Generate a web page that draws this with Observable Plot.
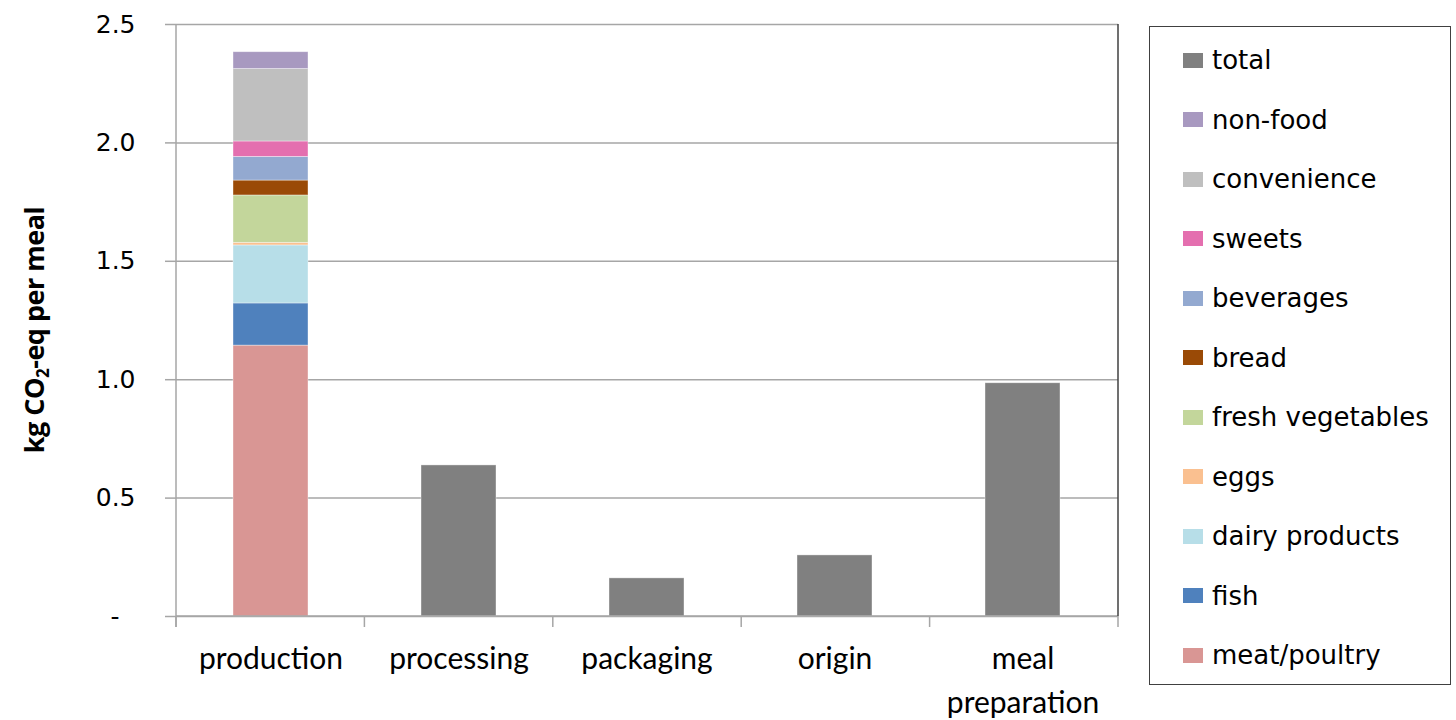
<!DOCTYPE html>
<html>
<head>
<meta charset="utf-8">
<script src="https://cdn.jsdelivr.net/npm/d3@7"></script>
<script src="https://cdn.jsdelivr.net/npm/@observablehq/plot@0.6"></script>
<style>
  html, body { margin: 0; padding: 0; background: #fff; }
  #wrap { position: relative; width: 1456px; height: 720px; }
  #chart { position: absolute; left: 0; top: 0; }
  #ylabel {
    position: absolute; left: 33px; top: 330px;
    transform: translate(-50%, -50%) rotate(-90deg);
    font-family: "Open Sans", sans-serif; font-weight: bold; font-size: 27px; letter-spacing: -0.5px;
    white-space: nowrap; color: #000;
  }
  #ylabel sub { font-size: 17px; vertical-align: -5px; line-height: 0; }
  #legend {
    position: absolute; left: 1149px; top: 26px; width: 302px; height: 659px;
    border: 1px solid #404040; box-sizing: border-box;
    font-family: "DejaVu Sans", sans-serif; font-size: 26px; color: #000;
  }
  .item { position: absolute; left: 33px; display: flex; align-items: center; height: 30px; }
  .sw { width: 20px; height: 15px; margin-right: 9px; }
</style>
</head>
<body>
<div id="wrap">
  <div id="chart"></div>
  <div id="ylabel">kg CO<sub>2</sub>-eq per meal</div>
  <div id="legend"></div>
</div>
<script>
// Stages (x categories)
const stages = ["production", "processing", "packaging", "origin", "meal\npreparation"];
// Totals for non-production stages
const totalStages = ["processing", "packaging", "origin", "meal\npreparation"];
const totalValues = [0.638, 0.161, 0.258, 0.985];
// Production breakdown (bottom to top)
const components = ["meat/poultry", "fish", "dairy products", "eggs", "fresh vegetables", "bread", "beverages", "sweets", "convenience", "non-food"];
const componentValues = [1.144, 0.178, 0.245, 0.011, 0.200, 0.063, 0.100, 0.065, 0.306, 0.071];
// Series colors
const seriesNames = ["total", "non-food", "convenience", "sweets", "beverages", "bread", "fresh vegetables", "eggs", "dairy products", "fish", "meat/poultry"];
const seriesColors = ["#808080", "#a899c0", "#bfbfbf", "#e46faf", "#93a9d0", "#9a4a06", "#c3d69b", "#fac090", "#b7dee8", "#4f81bd", "#d99694"];
// Y ticks
const yTicks = [0, 0.5, 1.0, 1.5, 2.0, 2.5];

const rows = [
  ...components.map((c, i) => ({stage: "production", series: c, value: componentValues[i], order: i})),
  ...totalStages.map((s, i) => ({stage: s, series: "total", value: totalValues[i], order: 0}))
];

const W = 1130, H = 720, ML = 176, MR = 12, MT = 24, MB = 104;

const chart = Plot.plot({
  width: W, height: H,
  marginLeft: ML, marginRight: MR, marginTop: MT, marginBottom: MB,
  style: {background: "transparent", overflow: "visible"},
  x: {domain: stages, paddingInner: 0.6, paddingOuter: 0.3, label: null},
  y: {domain: [0, 2.5], label: null},
  color: {domain: seriesNames, range: seriesColors},
  marks: [
    Plot.ruleY(yTicks, {stroke: "#a6a6a6", strokeWidth: 1.5}),
    Plot.barY(rows, Plot.stackY({
      x: "stage", y: "value", fill: "series", order: "order",
      stroke: "#ffffff", strokeOpacity: 0.5, strokeWidth: 0.75
    })),
    Plot.axisY({
      ticks: yTicks, tickSize: 11, tickPadding: 30,
      tickFormat: d => d === 0 ? "-\u00a0\u00a0" : d.toFixed(1),
      stroke: "#a6a6a6", strokeWidth: 1.5,
      fontSize: 25, fontFamily: "DejaVu Sans", fill: "#000", label: null
    }),
    Plot.axisX({
      tickSize: 0, tickPadding: 22, lineHeight: 1.45,
      fontSize: 30, fontFamily: "Lato", fill: "#000", label: null
    }),
    // left axis line, bottom axis line, boundary ticks, right border
    (index, scales, values, dims) => {
      const g = d3.create("svg:g");
      const x0 = dims.marginLeft, x1 = dims.width - dims.marginRight;
      const y0 = dims.height - dims.marginBottom, y1 = dims.marginTop;
      const n = scales.x.domain ? scales.x.domain().length : stages.length;
      const step = (x1 - x0) / n;
      const edges = d3.range(n + 1).map(i => x0 + i * step);
      g.selectAll("line.tk").data(edges).join("line")
        .attr("x1", d => d).attr("x2", d => d)
        .attr("y1", y0).attr("y2", y0 + 11)
        .attr("stroke", "#a6a6a6").attr("stroke-width", 1.5);
      g.append("line").attr("x1", x0).attr("x2", x1).attr("y1", y0).attr("y2", y0)
        .attr("stroke", "#a6a6a6").attr("stroke-width", 1.5);
      g.append("line").attr("x1", x0).attr("x2", x0).attr("y1", y1).attr("y2", y0 + 11)
        .attr("stroke", "#a6a6a6").attr("stroke-width", 1.5);
      g.append("line").attr("x1", x1).attr("x2", x1).attr("y1", y1).attr("y2", y0)
        .attr("stroke", "#404040").attr("stroke-width", 1.5);
      return g.node();
    }
  ]
});
document.getElementById("chart").appendChild(chart);

// Legend
const legend = document.getElementById("legend");
seriesNames.forEach((name, i) => {
  const item = document.createElement("div");
  item.className = "item";
  item.style.top = (18 + i * 59.5) + "px";
  const sw = document.createElement("div");
  sw.className = "sw";
  sw.style.background = seriesColors[i];
  const t = document.createElement("span");
  t.textContent = name;
  item.appendChild(sw); item.appendChild(t);
  legend.appendChild(item);
});
</script>
</body>
</html>
